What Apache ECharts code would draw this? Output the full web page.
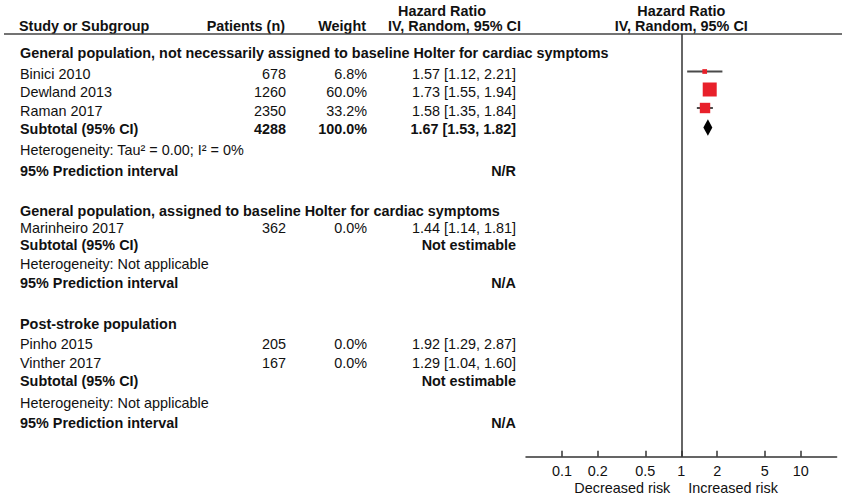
<!DOCTYPE html>
<html><head><meta charset="utf-8">
<script src="https://cdn.jsdelivr.net/npm/echarts@6/dist/echarts.min.js"></script>
<style>html,body{margin:0;padding:0;background:#fff}#c{width:842px;height:496px}</style>
</head><body><div id="c"></div>
<script>
// ---------------- data ----------------
const groupNames = [
  'General population, not necessarily assigned to baseline Holter for cardiac symptoms',
  'General population, assigned to baseline Holter for cardiac symptoms',
  'Post-stroke population'
];
const studyNames = ['Binici 2010', 'Dewland 2013', 'Raman 2017', 'Marinheiro 2017', 'Pinho 2015', 'Vinther 2017'];
const studyGroup = [0, 0, 0, 1, 2, 2];
const patients = [678, 1260, 2350, 362, 205, 167];
const weights = [6.8, 60.0, 33.2, 0.0, 0.0, 0.0];
const hr = [1.57, 1.73, 1.58, 1.44, 1.92, 1.29];
const ciLow = [1.12, 1.55, 1.35, 1.14, 1.29, 1.04];
const ciHigh = [2.21, 1.94, 1.84, 1.81, 2.87, 1.60];
const subtotalPatients = [4288, null, null];
const subtotalWeight = [100.0, null, null];
const subtotalHR = [1.67, null, null];
const subtotalLow = [1.53, null, null];
const subtotalHigh = [1.82, null, null];
const heterogeneity = ['Tau\u00b2 = 0.00; I\u00b2 = 0%', 'Not applicable', 'Not applicable'];
const predictionInterval = ['N/R', 'N/A', 'N/A'];
const xTicks = [0.1, 0.2, 0.5, 1, 2, 5, 10];
const xRange = [0.05, 20];
const headers = ['Study or Subgroup', 'Patients (n)', 'Weight', 'Hazard Ratio', 'IV, Random, 95% CI'];
const axisCaptions = ['Decreased risk', 'Increased risk'];

// ---------------- layout ----------------
const FONT = '"Liberation Sans", Arial, Helvetica, sans-serif';
const FS = 14.4;
const INK = '#111';
const rowY = [53, 74, 92, 110.5, 128.5, 150, 171, 211, 228, 245, 264, 283, 324, 344, 362.5, 380.5, 402.5, 422.5];
const col = { name: 20, patients: 286, weight: 367, hr: 516 };
const markerDy = -2.5;
const plotTop = 34, axisY = 456.7;
const plotLeft = 526, plotRight = 842 - 836.6;

// ---------------- build rows ----------------
const rows = [];
groupNames.forEach((g, gi) => {
  rows.push({ kind: 'group', gi });
  studyGroup.forEach((sg, si) => { if (sg === gi) rows.push({ kind: 'study', gi, si }); });
  rows.push({ kind: 'subtotal', gi });
  rows.push({ kind: 'het', gi });
  rows.push({ kind: 'pi', gi });
});

const f2 = v => v.toFixed(2);
const ciText = (m, l, h) => `${f2(m)} [${f2(l)}, ${f2(h)}]`;

function txt(x, y, text, align, bold) {
  return {
    type: 'text', x, y, silent: true,
    style: {
      text, x: 0, y: 0, align: align || 'left', verticalAlign: 'middle',
      fontFamily: FONT, fontSize: FS, fontWeight: bold ? 'bold' : 'normal', fill: INK
    }
  };
}

const graphics = [];
// header
graphics.push(txt(col.name - 1, 26, headers[0], 'left', true));
graphics.push(txt(col.patients - 1, 26, headers[1], 'right', true));
graphics.push(txt(col.weight - 1, 26, headers[2], 'right', true));
graphics.push(txt(442, 10.5, headers[3], 'center', true));
graphics.push(txt(col.hr + 5, 26, headers[4], 'right', true));
graphics.push({ type: 'line', silent: true, shape: { x1: 4, y1: plotTop, x2: 842, y2: plotTop },
  style: { stroke: '#444', lineWidth: 1.6 } });

const forestData = [];
rows.forEach((r, i) => {
  const y = rowY[i];
  if (r.kind === 'group') {
    graphics.push(txt(col.name, y, groupNames[r.gi], 'left', true));
  } else if (r.kind === 'study') {
    const s = r.si;
    graphics.push(txt(col.name, y, studyNames[s], 'left', false));
    graphics.push(txt(col.patients, y, String(patients[s]), 'right', false));
    graphics.push(txt(col.weight, y, weights[s].toFixed(1) + '%', 'right', false));
    graphics.push(txt(col.hr, y, ciText(hr[s], ciLow[s], ciHigh[s]), 'right', false));
    if (weights[s] > 0) forestData.push([hr[s], y + markerDy, ciLow[s], ciHigh[s], weights[s], 0]);
  } else if (r.kind === 'subtotal') {
    const g = r.gi;
    graphics.push(txt(col.name, y, 'Subtotal (95% CI)', 'left', true));
    if (subtotalHR[g] != null) {
      graphics.push(txt(col.patients, y, String(subtotalPatients[g]), 'right', true));
      graphics.push(txt(col.weight, y, subtotalWeight[g].toFixed(1) + '%', 'right', true));
      graphics.push(txt(col.hr, y, ciText(subtotalHR[g], subtotalLow[g], subtotalHigh[g]), 'right', true));
      forestData.push([subtotalHR[g], y - 1, subtotalLow[g], subtotalHigh[g], 0, 1]);
    } else {
      graphics.push(txt(col.hr, y, 'Not estimable', 'right', true));
    }
  } else if (r.kind === 'het') {
    graphics.push(txt(col.name, y, 'Heterogeneity: ' + heterogeneity[r.gi], 'left', false));
  } else if (r.kind === 'pi') {
    graphics.push(txt(col.name, y, '95% Prediction interval', 'left', true));
    graphics.push(txt(col.hr, y, predictionInterval[r.gi], 'right', true));
  }
});

const maxW = Math.max(...weights);
const chart = echarts.init(document.getElementById('c'), null, { renderer: 'svg' });
chart.setOption({
  animation: false,
  backgroundColor: '#fff',
  grid: { left: plotLeft, right: plotRight, top: plotTop, bottom: 496 - axisY, containLabel: false },
  xAxis: {
    type: 'log', logBase: 10, min: xRange[0], max: xRange[1],
    axisLine: { lineStyle: { color: '#333', width: 1.5 } },
    axisTick: { show: true, customValues: xTicks, inside: true, length: 6, lineStyle: { color: '#333', width: 1.5 } },
    axisLabel: { customValues: xTicks, margin: 7, fontFamily: FONT, fontSize: FS, color: INK,
      formatter: v => String(parseFloat(Number(v).toPrecision(6))) },
    splitLine: { show: false }, minorTick: { show: false }
  },
  yAxis: { type: 'value', min: plotTop, max: axisY, inverse: true, show: false },
  series: [{
    type: 'custom',
    coordinateSystem: 'cartesian2d',
    encode: { x: [0, 2, 3], y: 1 },
    data: forestData,
    renderItem(params, api) {
      const y = api.value(1);
      const c = api.coord([api.value(0), y]);
      const l = api.coord([api.value(2), y]);
      const h = api.coord([api.value(3), y]);
      if (api.value(5) === 0) {
        const s = 14 * Math.sqrt(api.value(4) / maxW);
        return { type: 'group', children: [
          { type: 'line', shape: { x1: l[0], y1: c[1], x2: h[0], y2: c[1] }, style: { stroke: '#4a4a4a', lineWidth: 2 } },
          { type: 'rect', shape: { x: c[0] - s / 2, y: c[1] - s / 2, width: s, height: s }, style: { fill: '#e8202a' } }
        ]};
      }
      return { type: 'polygon', shape: { points: [[l[0], c[1]], [c[0], c[1] - 8.2], [h[0], c[1]], [c[0], c[1] + 8.2]] },
        style: { fill: '#000' } };
    },
    markLine: {
      silent: true, symbol: 'none', label: { show: false },
      lineStyle: { color: '#333', width: 1.5, type: 'solid' },
      data: [{ xAxis: 1 }]
    },
    z: 3
  }]
});

const nullX = chart.convertToPixel({ xAxisIndex: 0 }, 1);
graphics.push(txt(nullX, 10.5, headers[3], 'center', true));
graphics.push(txt(nullX, 26, headers[4], 'center', true));
graphics.push(txt(nullX - 11, 488, axisCaptions[0], 'right', false));
graphics.push(txt(nullX + 7, 488, axisCaptions[1], 'left', false));
chart.setOption({ graphic: graphics });
</script>
</body></html>
